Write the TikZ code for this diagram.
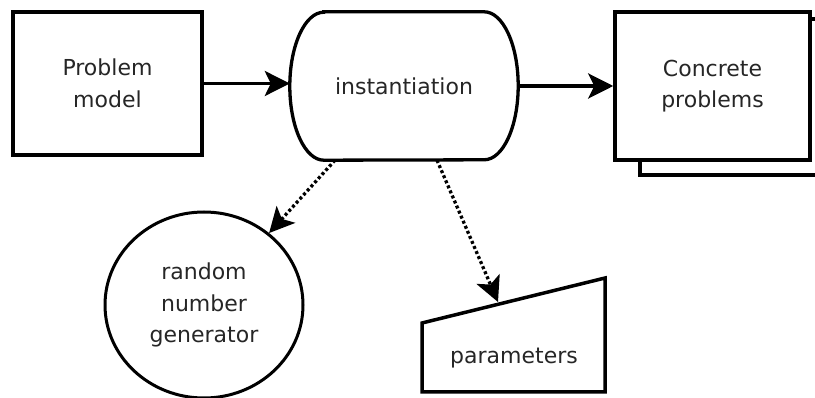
\documentclass[tikz,border=0pt]{standalone}
\usepackage{fontspec}
\setmainfont{DejaVu Sans}
\usetikzlibrary{arrows.meta,shapes.geometric}
\begin{document}
\begin{tikzpicture}[x=1pt,y=-1pt,
  every node/.style={font=\fontsize{22}{31.5}\selectfont, align=center, text=black!85},
  box/.style={draw=black, fill=white, line width=3.5pt, inner sep=0pt},
  conn/.style={line width=3.5pt, -{Stealth[length=25pt,width=25pt,inset=6pt]}},
  dotconn/.style={conn, line width=3.3pt, dash pattern=on 3pt off 2.5pt}
]
\useasboundingbox (0,0) rectangle (815,398);
% Problem model
\node[box, minimum width=189pt, minimum height=143pt] (pm) at (107.5,83.5) {Problem\\model};
% instantiation
\node[inner sep=0pt, minimum width=228pt, minimum height=148pt] (inst) at (404,86) {instantiation};
\draw[line width=3.3pt]
  ([xshift=34pt]inst.north west) -- ([xshift=-34pt]inst.north east)
  arc[start angle=90, end angle=-90, x radius=34pt, y radius=74pt]
  -- ([xshift=34pt]inst.south west)
  arc[start angle=270, end angle=90, x radius=34pt, y radius=74pt] -- cycle;
% Concrete problems (stack)
\node[box, minimum width=190pt, minimum height=156pt] (cpback) at (735,97) {};
\node[box, minimum width=195pt, minimum height=148pt] (cp) at (712.5,86) {Concrete\\problems};
% random number generator
\node[draw=black, ellipse, line width=3pt, inner sep=0pt, minimum width=198pt, minimum height=186pt] (rng) at (204,305) {random\\number\\generator};
% parameters (manual input)
\draw[line width=3.5pt, line join=miter] (422,323) -- (605,278) -- (605,392) -- (422,392) -- cycle;
\node[inner sep=0pt] (par) at (514,358) {parameters};
\coordinate (parin) at (498,302);
% connectors
\draw[conn] (pm.east) -- (inst.west |- pm.east);
\draw[conn] (inst.east) -- (cp.west |- inst.east);
\draw[dotconn] ([xshift=-69pt]inst.south) -- (rng);
\draw[dotconn] ([xshift=33pt]inst.south) -- (parin);
\end{tikzpicture}
\end{document}
